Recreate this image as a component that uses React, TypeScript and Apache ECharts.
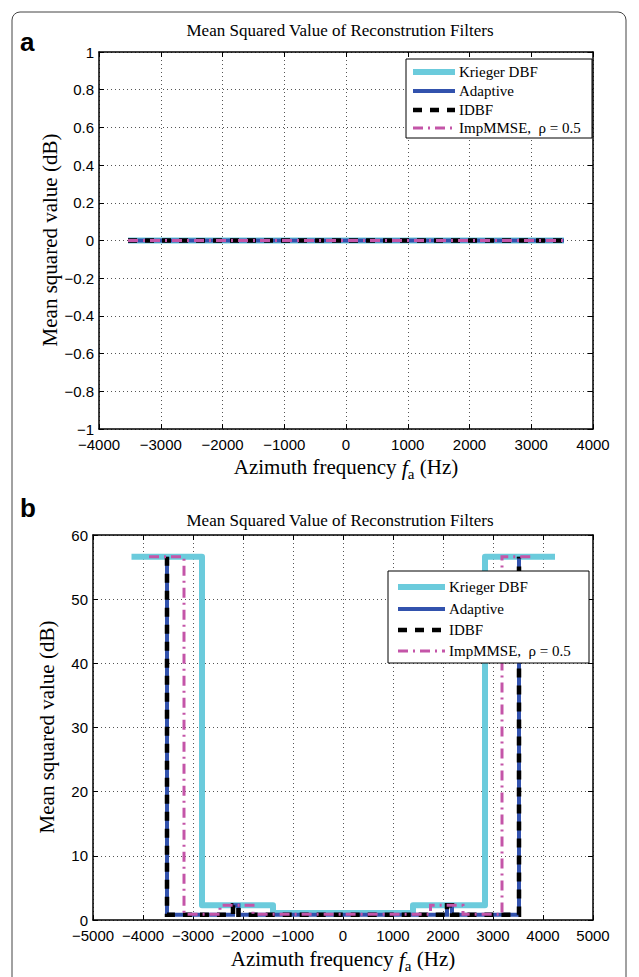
import React, { useEffect, useRef } from "react";
import * as echarts from "echarts";

// ---------- data ----------
const SERIES_NAMES = ["Krieger DBF", "Adaptive", "IDBF", "ImpMMSE,  \u03c1 = 0.5"];

// panel a: all filters flat at 0 dB
const FREQ_A = [-3530, 3530];
const KRIEGER_A = [0, 0];
const ADAPTIVE_A = [0, 0];
const IDBF_A = [0, 0];
const IMP_A = [0, 0];

// panel b
const KRIEGER_B_X = [-4230, -2820, -2820, -1400, -1400, 1400, 1400, 2840, 2840, 4240];
const KRIEGER_B_Y = [56.6, 56.6, 2.3, 2.3, 1.1, 1.1, 2.3, 2.3, 56.6, 56.6];

const ADAPTIVE_B_X = [-3520, -3520, -2200, -2200, -2090, -2090, 2080, 2080, 2180, 2180, 3520, 3520];
const ADAPTIVE_B_Y = [56.6, 0.8, 0.8, 2.3, 2.3, 0.8, 0.8, 2.3, 2.3, 0.8, 0.8, 56.6];

const IDBF_B_X = [-3520, -3520, -2200, -2200, -2090, -2090, 2080, 2080, 2180, 2180, 3520, 3520];
const IDBF_B_Y = [56.6, 0.8, 0.8, 2.3, 2.3, 0.8, 0.8, 2.3, 2.3, 0.8, 0.8, 56.6];

const IMP_B_X = [-3880, -3180, -3180, -2460, -2460, -1800, -1800, 1750, 1750, 2400, 2400, 3180, 3180, 3820];
const IMP_B_Y = [56.6, 56.6, 0.9, 0.9, 2.3, 2.3, 0.9, 0.9, 2.3, 2.3, 0.9, 0.9, 56.6, 56.6];

const TITLE = "Mean Squared Value of Reconstrution Filters";
const Y_NAME = "Mean squared value (dB)";

// ---------- styles ----------
const STYLES: any[] = [
  { color: "#6bcbdc", width: 6, type: "solid", join: "round" },
  { color: "#3252ad", width: 4, type: "solid", join: "miter" },
  { color: "#000000", width: 4.5, type: [9, 8], join: "miter" },
  { color: "#c455a8", width: 3, type: [10, 5, 2, 5], join: "miter" },
];

const SERIF = "Liberation Serif";
const SANS = "Liberation Sans";

const fmt = (v: number) => String(v).replace("-", "\u2212");

function pairs(xs: number[], ys: number[]) {
  return xs.map((x, i) => [x, ys[i]]);
}

function legendGraphic(x0: number, y0: number, w: number, h: number, ys: number[], lx1: number, lx2: number, tx: number, fs: number) {
  const els: any[] = [
    {
      type: "rect",
      shape: { x: x0, y: y0, width: w, height: h },
      style: { fill: "#ffffff", stroke: "#000000", lineWidth: 1 },
      z: 100,
    },
  ];
  SERIES_NAMES.forEach((name, i) => {
    const s = STYLES[i];
    els.push({
      type: "line",
      shape: { x1: lx1, y1: ys[i], x2: lx2, y2: ys[i] },
      style: { stroke: s.color, lineWidth: s.width, lineDash: s.type === "solid" ? null : s.type },
      z: 101,
    });
    els.push({
      type: "text",
      x: tx,
      y: ys[i],
      style: { text: name, fontFamily: SERIF, fontSize: fs, fill: "#000", align: "left", verticalAlign: "middle" },
      z: 101,
    });
  });
  return els;
}

function axisTitleRich(x: number, y: number) {
  return {
    type: "text",
    x,
    y,
    style: {
      text: "{n|Azimuth frequency }{i|f}{s|a}{n| (Hz)}",
      align: "center",
      verticalAlign: "middle",
      fill: "#000",
      fontFamily: SERIF,
      fontSize: 21,
      rich: {
        n: { fontFamily: SERIF, fontSize: 21, fill: "#000" },
        i: { fontFamily: SERIF, fontSize: 22, fontStyle: "italic", fill: "#000" },
        s: { fontFamily: SERIF, fontSize: 15, padding: [14, 0, 0, 0], fill: "#000" },
      },
    },
  };
}

export default function App() {
  const ref = useRef<HTMLDivElement>(null);

  useEffect(() => {
    if (!ref.current) return;
    const chart = echarts.init(ref.current, undefined, { renderer: "svg" });

    const axisLine = { show: true, onZero: false, lineStyle: { color: "#000", width: 1.5 } };
    const tick = { show: true, inside: true, length: 5, lineStyle: { color: "#000", width: 1 } };
    const split = { show: true, lineStyle: { color: "#555", width: 1, type: [1, 3] } };
    const label = { color: "#000", fontFamily: SANS, fontSize: 15, formatter: fmt };

    const mkX = (grid: number, min: number, max: number) => [
      {
        type: "value", gridIndex: grid, position: "bottom", min, max, interval: 1000,
        axisLine, axisTick: tick, splitLine: split, axisLabel: { ...label, margin: 8 },
      },
      {
        type: "value", gridIndex: grid, position: "top", min, max, interval: 1000,
        axisLine, axisTick: tick, splitLine: { show: false }, axisLabel: { show: false },
      },
    ];
    const mkY = (grid: number, min: number, max: number, interval: number) => [
      {
        type: "value", gridIndex: grid, position: "left", min, max, interval,
        axisLine, axisTick: tick, splitLine: split, axisLabel: { ...label, margin: 5 },
      },
      {
        type: "value", gridIndex: grid, position: "right", min, max, interval,
        axisLine, axisTick: tick, splitLine: { show: false }, axisLabel: { show: false },
      },
    ];

    const aData = [KRIEGER_A, ADAPTIVE_A, IDBF_A, IMP_A].map((ys) => pairs(FREQ_A, ys));
    const bData = [
      pairs(KRIEGER_B_X, KRIEGER_B_Y),
      pairs(ADAPTIVE_B_X, ADAPTIVE_B_Y),
      pairs(IDBF_B_X, IDBF_B_Y),
      pairs(IMP_B_X, IMP_B_Y),
    ];

    const mkSeries = (data: number[][], i: number, xi: number, yi: number) => ({
      type: "line",
      name: SERIES_NAMES[i],
      xAxisIndex: xi,
      yAxisIndex: yi,
      data,
      symbol: "none",
      showSymbol: false,
      silent: true,
      z: 3 + i,
      lineStyle: {
        color: STYLES[i].color,
        width: STYLES[i].width,
        type: STYLES[i].type,
        cap: "butt",
        join: STYLES[i].join,
      },
    });

    const series: any[] = [];
    aData.forEach((d, i) => series.push(mkSeries(d, i, 0, 0)));
    bData.forEach((d, i) => series.push(mkSeries(d, i, 2, 2)));

    const graphic: any[] = [
      {
        type: "rect",
        shape: { x: 12, y: 12, width: 614, height: 1000, r: 8 },
        style: { fill: "none", stroke: "#444", lineWidth: 1 },
        z: 0,
      },
      { type: "text", x: 20, y: 42, style: { text: "a", fontFamily: SANS, fontWeight: "bold", fontSize: 26, fill: "#000", verticalAlign: "middle" } },
      { type: "text", x: 20, y: 508, style: { text: "b", fontFamily: SANS, fontWeight: "bold", fontSize: 26, fill: "#000", verticalAlign: "middle" } },
      { type: "text", x: 340, y: 30, style: { text: TITLE, fontFamily: SERIF, fontSize: 17, fill: "#000", align: "center", verticalAlign: "middle" } },
      { type: "text", x: 340, y: 520, style: { text: TITLE, fontFamily: SERIF, fontSize: 17, fill: "#000", align: "center", verticalAlign: "middle" } },
      {
        type: "text", x: 50, y: 240, rotation: Math.PI / 2,
        style: { text: Y_NAME, fontFamily: SERIF, fontSize: 21, fill: "#000", align: "center", verticalAlign: "middle" },
      },
      {
        type: "text", x: 47, y: 727, rotation: Math.PI / 2,
        style: { text: Y_NAME, fontFamily: SERIF, fontSize: 21, fill: "#000", align: "center", verticalAlign: "middle" },
      },
      axisTitleRich(346, 467),
      axisTitleRich(343, 959),
      ...legendGraphic(406, 59, 186, 79, [72, 91, 110, 128], 413, 455, 459, 15),
      ...legendGraphic(388, 571, 201, 92, [587, 609, 630, 651], 398, 445, 449, 15),
    ];

    chart.setOption({
      animation: false,
      backgroundColor: "#ffffff",
      grid: [
        { left: 99, top: 52, width: 494, height: 377, containLabel: false },
        { left: 93, top: 535, width: 500, height: 385, containLabel: false },
      ],
      xAxis: [...mkX(0, -4000, 4000), ...mkX(1, -5000, 5000)],
      yAxis: [...mkY(0, -1, 1, 0.2), ...mkY(1, 0, 60, 10)],
      series,
      graphic,
    });

    return () => chart.dispose();
  }, []);

  return (
    <div
      ref={ref}
      style={{ position: "absolute", left: 0, top: 0, width: 639, height: 977, background: "#fff" }}
    />
  );
}
